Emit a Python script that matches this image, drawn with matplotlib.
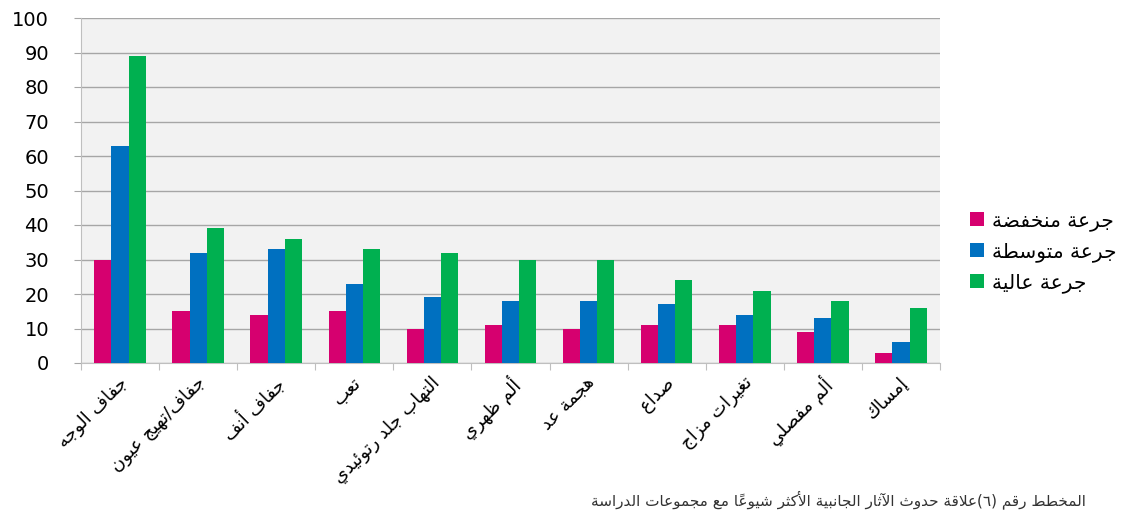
import matplotlib
matplotlib.use("Agg")
import matplotlib.pyplot as plt
import numpy as np

# ---------------- data ----------------
categories = ["جفاف الوجه", "جفاف/تهيج عيون", "جفاف أنف", "تعب", "التهاب جلد رتوئيدي",
              "ألم ظهري", "هجمة عد", "صداع", "تغيرات مزاج", "ألم مفصلي", "إمساك"]
series_names = ["جرعة منخفضة", "جرعة متوسطة", "جرعة عالية"]
low_dose = [30, 15, 14, 15, 10, 11, 10, 11, 11, 9, 3]
mid_dose = [63, 32, 33, 23, 19, 18, 18, 17, 14, 13, 6]
high_dose = [89, 39, 36, 33, 32, 30, 30, 24, 21, 18, 16]
y_ticks = [0, 10, 20, 30, 40, 50, 60, 70, 80, 90, 100]
caption = "المخطط رقم (٦)علاقة حدوث الآثار الجانبية الأكثر شيوعاً مع مجموعات الدراسة"
colors = ["#D6006F", "#0070C0", "#00B050"]

# ---------------- minimal Arabic shaping ----------------
FORMS = {
    'ء': (0xFE80,), 'آ': (0xFE81, 0xFE82), 'أ': (0xFE83, 0xFE84), 'ؤ': (0xFE85, 0xFE86),
    'إ': (0xFE87, 0xFE88), 'ئ': (0xFE89, 0xFE8A, 0xFE8B, 0xFE8C), 'ا': (0xFE8D, 0xFE8E),
    'ب': (0xFE8F, 0xFE90, 0xFE91, 0xFE92), 'ة': (0xFE93, 0xFE94),
    'ت': (0xFE95, 0xFE96, 0xFE97, 0xFE98), 'ث': (0xFE99, 0xFE9A, 0xFE9B, 0xFE9C),
    'ج': (0xFE9D, 0xFE9E, 0xFE9F, 0xFEA0), 'ح': (0xFEA1, 0xFEA2, 0xFEA3, 0xFEA4),
    'خ': (0xFEA5, 0xFEA6, 0xFEA7, 0xFEA8), 'د': (0xFEA9, 0xFEAA), 'ذ': (0xFEAB, 0xFEAC),
    'ر': (0xFEAD, 0xFEAE), 'ز': (0xFEAF, 0xFEB0), 'س': (0xFEB1, 0xFEB2, 0xFEB3, 0xFEB4),
    'ش': (0xFEB5, 0xFEB6, 0xFEB7, 0xFEB8), 'ص': (0xFEB9, 0xFEBA, 0xFEBB, 0xFEBC),
    'ض': (0xFEBD, 0xFEBE, 0xFEBF, 0xFEC0), 'ط': (0xFEC1, 0xFEC2, 0xFEC3, 0xFEC4),
    'ظ': (0xFEC5, 0xFEC6, 0xFEC7, 0xFEC8), 'ع': (0xFEC9, 0xFECA, 0xFECB, 0xFECC),
    'غ': (0xFECD, 0xFECE, 0xFECF, 0xFED0), 'ف': (0xFED1, 0xFED2, 0xFED3, 0xFED4),
    'ق': (0xFED5, 0xFED6, 0xFED7, 0xFED8), 'ك': (0xFED9, 0xFEDA, 0xFEDB, 0xFEDC),
    'ل': (0xFEDD, 0xFEDE, 0xFEDF, 0xFEE0), 'م': (0xFEE1, 0xFEE2, 0xFEE3, 0xFEE4),
    'ن': (0xFEE5, 0xFEE6, 0xFEE7, 0xFEE8), 'ه': (0xFEE9, 0xFEEA, 0xFEEB, 0xFEEC),
    'و': (0xFEED, 0xFEEE), 'ى': (0xFEEF, 0xFEF0), 'ي': (0xFEF1, 0xFEF2, 0xFEF3, 0xFEF4),
}
LAM_ALEF = {'آ': (0xFEF5, 0xFEF6), 'أ': (0xFEF7, 0xFEF8), 'إ': (0xFEF9, 0xFEFA), 'ا': (0xFEFB, 0xFEFC)}
MARKS = set(chr(c) for c in range(0x064B, 0x0653))


def shape(text):
    units = []
    for ch in text:
        if ch in MARKS and units:
            units[-1][1] += ch
        else:
            units.append([ch, ""])
    merged = []
    i = 0
    while i < len(units):
        c = units[i][0]
        if c == 'ل' and i + 1 < len(units) and units[i + 1][0] in LAM_ALEF:
            merged.append(['LA' + units[i + 1][0], units[i][1] + units[i + 1][1]])
            i += 2
        else:
            merged.append(units[i])
            i += 1

    def joins_next(c):
        if c.startswith('LA'):
            return False
        f = FORMS.get(c)
        return f is not None and len(f) == 4

    def joins_prev(c):
        if c.startswith('LA'):
            return True
        f = FORMS.get(c)
        return f is not None and len(f) >= 2

    out = []
    for k, (c, m) in enumerate(merged):
        prev_c = merged[k - 1][0] if k > 0 else None
        next_c = merged[k + 1][0] if k + 1 < len(merged) else None
        cp = prev_c is not None and joins_next(prev_c) and joins_prev(c)
        cn = next_c is not None and joins_next(c) and joins_prev(next_c)
        if c.startswith('LA'):
            g = chr(LAM_ALEF[c[2]][1 if cp else 0])
        elif c in FORMS:
            f = FORMS[c]
            if len(f) == 1:
                g = chr(f[0])
            elif len(f) == 2:
                g = chr(f[1] if cp else f[0])
            else:
                if cp and cn:
                    g = chr(f[3])
                elif cp:
                    g = chr(f[1])
                elif cn:
                    g = chr(f[2])
                else:
                    g = chr(f[0])
        else:
            g = c
        out.append(g + m)
    out = out[::-1]
    mirror = {'(': ')', ')': '('}
    return "".join(mirror.get(u, u) for u in out)


plt.rcParams['font.family'] = ['DejaVu Sans']

fig = plt.figure(figsize=(11.44, 5.17), dpi=100)
ax = fig.add_axes([81 / 1144, 1 - 363 / 517, (940 - 81) / 1144, (363 - 18) / 517])
ax.set_facecolor("#F2F2F2")

x = np.arange(len(categories))
w = 0.22
for j, (vals, col, name) in enumerate(zip([low_dose, mid_dose, high_dose], colors, series_names)):
    ax.bar(x + (j - 1) * w, vals, width=w, color=col, label=shape(name), zorder=3)

ax.set_xlim(-0.5, len(categories) - 0.5)
ax.set_ylim(0, 100)
ax.set_yticks(y_ticks)
ax.set_yticklabels([str(v) for v in y_ticks], fontsize=14, family="DejaVu Sans")
ax.yaxis.grid(True, color="#A6A6A6", linewidth=1.0, zorder=0)
ax.tick_params(axis='y', length=5, color="#A6A6A6", pad=18)

ax.set_xticks(np.arange(len(categories) + 1) - 0.5, minor=False)
ax.set_xticklabels([])
ax.tick_params(axis='x', length=5, color="#BFBFBF")
for i, c in enumerate(categories):
    ax.text(i - 0.03, -3.0, shape(c), rotation=45, rotation_mode='anchor',
            ha='right', va='top', fontsize=13, transform=ax.transData)

for s in ['top', 'right']:
    ax.spines[s].set_visible(False)
ax.spines['left'].set_color("#BFBFBF")
ax.spines['bottom'].set_color("#BFBFBF")

leg = fig.legend(loc='center left', bbox_to_anchor=(952 / 1144, 1 - 252 / 517), frameon=False,
                 fontsize=14.5, handlelength=0.7, handleheight=0.7, handletextpad=0.4,
                 labelspacing=0.55)

fig.text(1086 / 1144, 1 - 500 / 517, shape(caption), ha='right', va='center', fontsize=11,
         color="#333333")

fig.savefig("out.png", dpi=100)
